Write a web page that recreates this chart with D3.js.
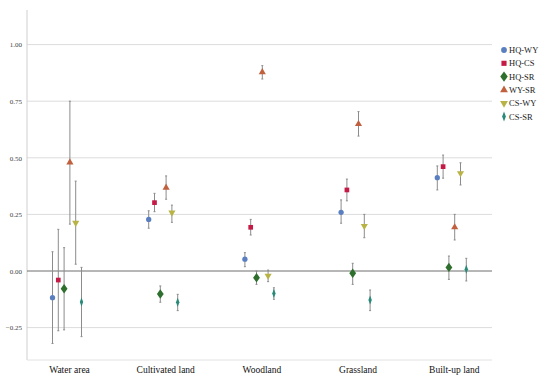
<!DOCTYPE html>
<meta charset="utf-8">
<head>
    <script src="https://d3js.org/d3.v7.min.js"></script>
    <title>Correlation by land use</title>
</head>
<body>
    <div id="chart"></div>
</body>
<style>
    body {
        margin: 0;
        background: #fff;
    }
    svg text {
        font-family: 'Liberation Serif', 'Times New Roman', serif !important;
    }
</style>
<script>
    // categories and series
    var categories = ["Water area", "Cultivated land", "Woodland", "Grassland", "Built-up land"];
    var seriesNames = ["HQ-WY", "HQ-CS", "HQ-SR", "WY-SR", "CS-WY", "CS-SR"];
    var yTicks = [-0.25, 0, 0.25, 0.5, 0.75, 1];

    // point estimates, one value per category
    var hqWy = [-0.118, 0.228, 0.052, 0.259, 0.412];
    var hqCs = [-0.04, 0.302, 0.193, 0.358, 0.461];
    var hqSr = [-0.078, -0.102, -0.03, -0.01, 0.016];
    var wySr = [0.48, 0.368, 0.878, 0.649, 0.193];
    var csWy = [0.213, 0.258, -0.021, 0.199, 0.432];
    var csSr = [-0.137, -0.138, -0.099, -0.128, 0.008];

    // lower / upper ends of the error bars
    var hqWyLo = [-0.32, 0.189, 0.019, 0.211, 0.358];
    var hqWyHi = [0.085, 0.266, 0.081, 0.314, 0.464];
    var hqCsLo = [-0.264, 0.262, 0.159, 0.31, 0.41];
    var hqCsHi = [0.184, 0.343, 0.228, 0.406, 0.512];
    var hqSrLo = [-0.26, -0.138, -0.059, -0.059, -0.037];
    var hqSrHi = [0.103, -0.066, 0.0, 0.034, 0.066];
    var wySrLo = [0.207, 0.317, 0.848, 0.596, 0.137];
    var wySrHi = [0.75, 0.42, 0.907, 0.704, 0.25];
    var csWyLo = [0.03, 0.215, -0.047, 0.147, 0.38];
    var csWyHi = [0.397, 0.291, 0.004, 0.25, 0.478];
    var csSrLo = [-0.29, -0.175, -0.125, -0.175, -0.044];
    var csSrHi = [0.016, -0.103, -0.074, -0.084, 0.056];

    var means = [hqWy, hqCs, hqSr, wySr, csWy, csSr];
    var lows = [hqWyLo, hqCsLo, hqSrLo, wySrLo, csWyLo, csSrLo];
    var highs = [hqWyHi, hqCsHi, hqSrHi, wySrHi, csWyHi, csSrHi];

    var colors = ["#5a7fc0", "#c41a45", "#2f6f2e", "#c0603f", "#b8b345", "#2a8a78"];

    var width = 550, height = 383;
    var plotLeft = 27, plotRight = 492, plotTop = 10, plotBottom = 360;

    var svg = d3.select("#chart")
        .append("svg")
        .attr("width", width)
        .attr("height", height);

    var x = d3.scalePoint()
        .domain(categories)
        .range([67, 451.8]);

    var y = d3.scaleLinear()
        .domain([-0.25, 1])
        .range([327.6, 44.6]);

    var step = 5.8;

    // gridlines
    svg.append("g")
        .selectAll("line")
        .data(yTicks.filter(function (d) { return d !== 0; }))
        .enter()
        .append("line")
        .attr("x1", plotLeft)
        .attr("x2", plotRight)
        .attr("y1", function (d) { return y(d); })
        .attr("y2", function (d) { return y(d); })
        .attr("stroke", "#dcdcdc")
        .attr("stroke-width", 1);

    // frame lines
    svg.append("line")
        .attr("x1", plotLeft).attr("x2", plotLeft)
        .attr("y1", plotTop).attr("y2", plotBottom)
        .attr("stroke", "#cfcfcf");
    svg.append("line")
        .attr("x1", plotLeft).attr("x2", plotRight)
        .attr("y1", plotBottom).attr("y2", plotBottom)
        .attr("stroke", "#e2e2e2");

    // zero line
    svg.append("line")
        .attr("x1", plotLeft).attr("x2", plotRight)
        .attr("y1", y(0)).attr("y2", y(0))
        .attr("stroke", "#6e6e6e")
        .attr("stroke-width", 1);

    // y axis
    var yAxis = svg.append("g")
        .attr("transform", "translate(" + plotLeft + ",0)")
        .call(d3.axisLeft(y).tickValues(yTicks).tickSize(0).tickPadding(5).tickFormat(d3.format(".2f")));
    yAxis.select(".domain").remove();
    yAxis.selectAll("text")
        .attr("font-size", 7)
        .attr("fill", "#444");

    // x axis labels
    var xAxis = svg.append("g")
        .attr("transform", "translate(2," + (plotBottom + 6) + ")")
        .call(d3.axisBottom(x).tickSize(0).tickPadding(0));
    xAxis.select(".domain").remove();
    xAxis.selectAll("text")
        .attr("font-size", 9.5)
        .attr("fill", "#111");

    // shapes per series
    var symbols = [d3.symbolCircle, d3.symbolSquare, d3.symbolDiamond, d3.symbolTriangle, d3.symbolTriangle, d3.symbolDiamond];
    var sizes = [22, 22, 26, 22, 22, 24];
    var rotate = [0, 0, 0, 0, 180, 0];
    var scaleX = [1, 1, 1.25, 1, 1, 0.65];

    function symbolPath(k, s) {
        return d3.symbol().type(symbols[k]).size(sizes[k] * (s || 1))();
    }

    function markerTransform(k, cx, cy) {
        return "translate(" + cx + "," + cy + ") rotate(" + rotate[k] + ") scale(" + scaleX[k] + ",1)";
    }

    seriesNames.forEach(function (name, k) {
        var g = svg.append("g").attr("class", "series");
        var dx = (k - 2.5) * step;
        var pts = categories.map(function (c, i) {
            return { cat: c, m: means[k][i], lo: lows[k][i], hi: highs[k][i] };
        });

        // error bars
        g.selectAll(".bar")
            .data(pts)
            .enter()
            .append("line")
            .attr("x1", function (d) { return x(d.cat) + dx; })
            .attr("x2", function (d) { return x(d.cat) + dx; })
            .attr("y1", function (d) { return y(d.lo); })
            .attr("y2", function (d) { return y(d.hi); })
            .attr("stroke", "#8c8c8c")
            .attr("stroke-width", 1);

        g.selectAll(".cap")
            .data(pts.flatMap(function (d) { return [{ cat: d.cat, v: d.lo }, { cat: d.cat, v: d.hi }]; }))
            .enter()
            .append("line")
            .attr("x1", function (d) { return x(d.cat) + dx - 1; })
            .attr("x2", function (d) { return x(d.cat) + dx + 1; })
            .attr("y1", function (d) { return y(d.v); })
            .attr("y2", function (d) { return y(d.v); })
            .attr("stroke", "#8c8c8c")
            .attr("stroke-width", 1);

        // markers
        g.selectAll(".pt")
            .data(pts)
            .enter()
            .append("path")
            .attr("d", symbolPath(k))
            .attr("transform", function (d) { return markerTransform(k, x(d.cat) + dx, y(d.m)); })
            .attr("fill", colors[k]);
    });

    // legend
    var legend = svg.append("g")
        .attr("transform", "translate(504,50)");

    var rows = legend.selectAll(".row")
        .data(seriesNames)
        .enter()
        .append("g")
        .attr("transform", function (d, k) { return "translate(0," + (k * 13.3) + ")"; });

    rows.append("path")
        .attr("d", function (d, k) { return symbolPath(k, 1.2); })
        .attr("transform", function (d, k) { return markerTransform(k, 0, 0); })
        .attr("fill", function (d, k) { return colors[k]; });

    rows.append("text")
        .attr("x", 5)
        .attr("y", 3)
        .attr("font-size", 8.5)
        .attr("fill", "#222")
        .text(function (d) { return d; });
</script>
